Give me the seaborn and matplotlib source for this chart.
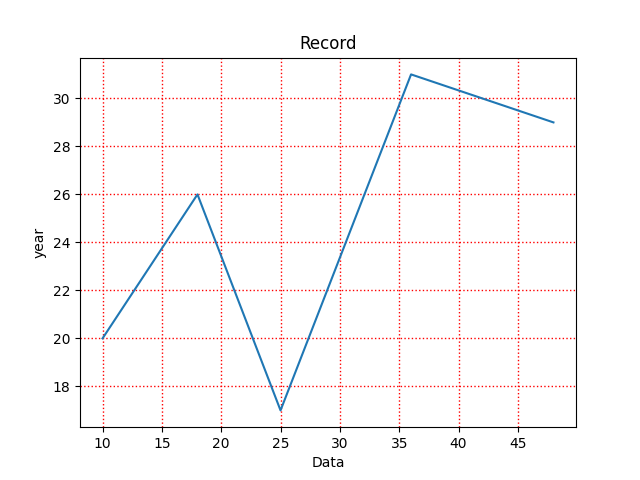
import matplotlib
matplotlib.use("Agg")
import matplotlib.pyplot as plt
import seaborn as sns
import pandas as pd

# values
data_x = [10, 18, 25, 36, 48]
year_y = [20, 26, 17, 31, 29]

df = pd.DataFrame({"Data": data_x, "year": year_y})

fig, ax = plt.subplots(figsize=(6.4, 4.8), dpi=100)
sns.lineplot(data=df, x="Data", y="year", ax=ax, color="#1f77b4")
ax.grid(True, color="red", linestyle=":", linewidth=1)
ax.set_title("Record")
ax.set_xlabel("Data")
ax.set_ylabel("year")

fig.savefig("out.png", dpi=100)
